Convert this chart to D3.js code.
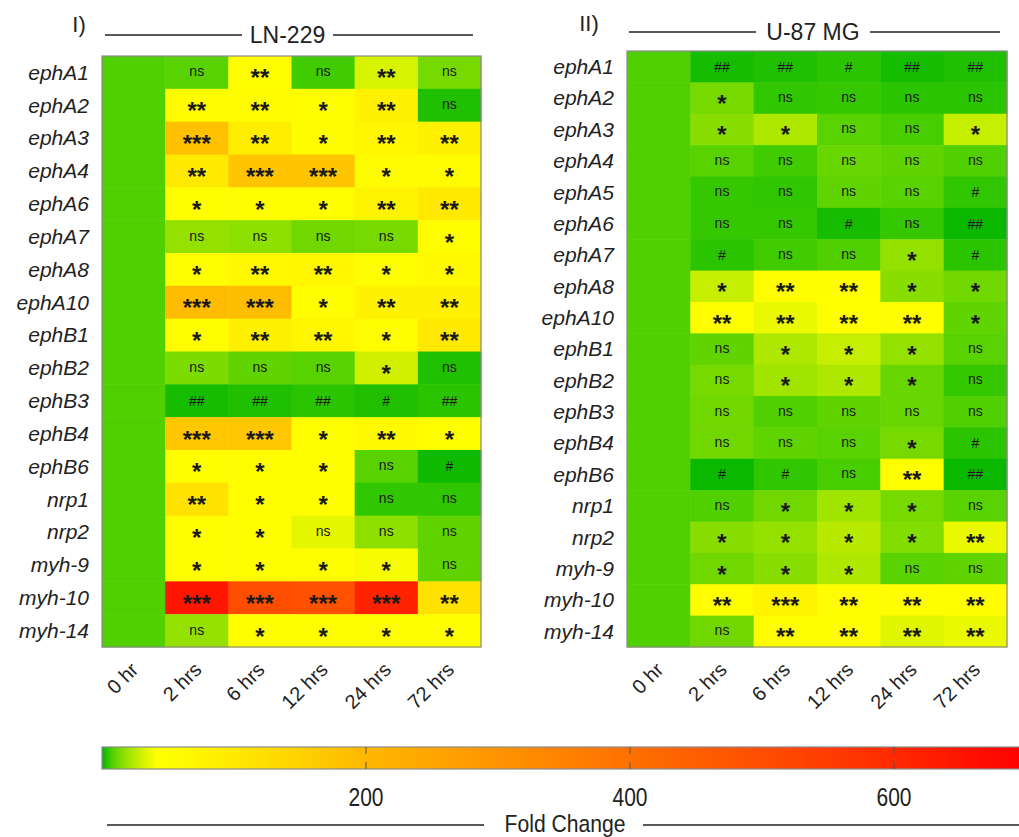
<!DOCTYPE html>
<html>
<head>
<meta charset="utf-8">
<script src="https://cdn.jsdelivr.net/npm/d3@7"></script>
<style>
  html, body { margin: 0; padding: 0; background: #fff; }
  svg { display: block; }
</style>
</head>
<body>
<svg id="chart" width="1019" height="837"></svg>
<script>
// Time points after treatment
const timepoints = ['0 hr', '2 hrs', '6 hrs', '12 hrs', '24 hrs', '72 hrs'];

// LN-229 panel
const genesLN = ['ephA1', 'ephA2', 'ephA3', 'ephA4', 'ephA6', 'ephA7', 'ephA8', 'ephA10',
  'ephB1', 'ephB2', 'ephB3', 'ephB4', 'ephB6', 'nrp1', 'nrp2', 'myh-9', 'myh-10', 'myh-14'];
const foldLN = [
  [8, 9, 50, 6, 32, 13],
  [8, 55, 55, 50, 80, 3],
  [8, 185, 90, 55, 70, 80],
  [8, 100, 175, 175, 55, 55],
  [8, 50, 50, 50, 75, 100],
  [8, 18, 17, 12, 13, 50],
  [8, 50, 65, 70, 50, 60],
  [8, 195, 190, 50, 80, 80],
  [8, 50, 85, 70, 50, 100],
  [8, 14, 10, 9, 30, 3],
  [8, 2, 3, 4, 3, 4],
  [8, 170, 170, 50, 60, 50],
  [8, 50, 50, 50, 9, 1.5],
  [8, 115, 50, 50, 4.5, 4.5],
  [8, 50, 50, 35, 17, 10],
  [8, 50, 50, 50, 40, 10],
  [8, 650, 500, 490, 620, 115],
  [8, 18, 50, 50, 50, 50]
];
const sigLN = [
  ['', 'ns', '**', 'ns', '**', 'ns'],
  ['', '**', '**', '*', '**', 'ns'],
  ['', '***', '**', '*', '**', '**'],
  ['', '**', '***', '***', '*', '*'],
  ['', '*', '*', '*', '**', '**'],
  ['', 'ns', 'ns', 'ns', 'ns', '*'],
  ['', '*', '**', '**', '*', '*'],
  ['', '***', '***', '*', '**', '**'],
  ['', '*', '**', '**', '*', '**'],
  ['', 'ns', 'ns', 'ns', '*', 'ns'],
  ['', '##', '##', '##', '#', '##'],
  ['', '***', '***', '*', '**', '*'],
  ['', '*', '*', '*', 'ns', '#'],
  ['', '**', '*', '*', 'ns', 'ns'],
  ['', '*', '*', 'ns', 'ns', 'ns'],
  ['', '*', '*', '*', '*', 'ns'],
  ['', '***', '***', '***', '***', '**'],
  ['', 'ns', '*', '*', '*', '*']
];

// U-87 MG panel
const genesU87 = ['ephA1', 'ephA2', 'ephA3', 'ephA4', 'ephA5', 'ephA6', 'ephA7', 'ephA8', 'ephA10',
  'ephB1', 'ephB2', 'ephB3', 'ephB4', 'ephB6', 'nrp1', 'nrp2', 'myh-9', 'myh-10', 'myh-14'];
const foldU87 = [
  [8, 2, 3, 4, 2, 3],
  [8, 13, 4.5, 5, 4, 4],
  [8, 16, 23, 9, 7, 28],
  [8, 9, 6, 11, 10, 8],
  [8, 5, 4.5, 10, 9, 4.5],
  [8, 5, 5, 2, 5, 1],
  [8, 4, 6, 8, 18, 4],
  [8, 28, 48, 48, 16, 12],
  [8, 48, 37, 45, 48, 10],
  [8, 10, 23, 28, 18, 9],
  [8, 13, 20, 23, 11, 5],
  [8, 12, 8, 10, 11, 8],
  [8, 12, 10, 9, 13, 4],
  [8, 1, 4.5, 7, 48, 1],
  [8, 8, 12, 20, 13, 9],
  [8, 16, 18, 25, 15, 37],
  [8, 12, 16, 23, 9, 10],
  [8, 50, 75, 50, 50, 50],
  [8, 12, 48, 48, 34, 37]
];
const sigU87 = [
  ['', '##', '##', '#', '##', '##'],
  ['', '*', 'ns', 'ns', 'ns', 'ns'],
  ['', '*', '*', 'ns', 'ns', '*'],
  ['', 'ns', 'ns', 'ns', 'ns', 'ns'],
  ['', 'ns', 'ns', 'ns', 'ns', '#'],
  ['', 'ns', 'ns', '#', 'ns', '##'],
  ['', '#', 'ns', 'ns', '*', '#'],
  ['', '*', '**', '**', '*', '*'],
  ['', '**', '**', '**', '**', '*'],
  ['', 'ns', '*', '*', '*', 'ns'],
  ['', 'ns', '*', '*', '*', 'ns'],
  ['', 'ns', 'ns', 'ns', 'ns', 'ns'],
  ['', 'ns', 'ns', 'ns', '*', '#'],
  ['', '#', '#', 'ns', '**', '##'],
  ['', 'ns', '*', '*', '*', 'ns'],
  ['', '*', '*', '*', '*', '**'],
  ['', '*', '*', '*', 'ns', 'ns'],
  ['', '**', '***', '**', '**', '**'],
  ['', 'ns', '**', '**', '**', '**']
];

// Fold-change colour ramp (green -> yellow -> orange -> red)
const colorDomain = [0, 6, 12, 20, 30, 42, 60, 120, 200, 400, 600, 700];
const colorRange = ['#00b400', '#40cc00', '#70d800', '#a0e400', '#d0f000', '#ffff00',
  '#fffa00', '#ffe000', '#ffb800', '#ff7000', '#ff2a00', '#ff0000'];
const legendTicks = [200, 400, 600];

const color = d3.scaleLinear().domain(colorDomain).range(colorRange).clamp(true);

const svg = d3.select('#chart');
const FONT = "'Liberation Sans', Arial, Helvetica, sans-serif";

function drawPanel(opt) {
  const { x0, x1, y0, y1, genes, fold, sig, title, roman, titleY, lineL, lineR } = opt;
  const g = svg.append('g');

  const x = d3.scaleBand().domain(timepoints).range([x0, x1]);
  const y = d3.scaleBand().domain(genes).range([y0, y1]);

  const cells = [];
  genes.forEach((gene, i) => {
    timepoints.forEach((t, j) => {
      cells.push({ gene, t, v: fold[i][j], s: sig[i][j] });
    });
  });

  g.selectAll('rect.cell')
    .data(cells)
    .join('rect')
    .attr('class', 'cell')
    .attr('x', d => x(d.t))
    .attr('y', d => y(d.gene))
    .attr('width', x.bandwidth() + 0.5)
    .attr('height', y.bandwidth() + 0.5)
    .attr('fill', d => color(d.v));

  g.append('rect')
    .attr('x', x0).attr('y', y0)
    .attr('width', x1 - x0).attr('height', y1 - y0)
    .attr('fill', 'none')
    .attr('stroke', '#8a8a8a')
    .attr('stroke-width', 1.2);

  // significance marks
  g.selectAll('text.sig')
    .data(cells.filter(d => d.s))
    .join('text')
    .attr('class', 'sig')
    .attr('x', d => x(d.t) + x.bandwidth() / 2)
    .attr('y', d => {
      const cy = y(d.gene) + y.bandwidth() / 2;
      if (d.s.startsWith('*')) return cy + 14;
      if (d.s.startsWith('#')) return cy + 5;
      return cy + 4;
    })
    .attr('text-anchor', 'middle')
    .attr('font-family', FONT)
    .attr('font-weight', d => d.s.startsWith('*') ? 'bold' : 'normal')
    .attr('font-size', d => d.s.startsWith('*') ? 24 : 14)
    .attr('fill', '#1a1a1a')
    .text(d => d.s);

  // gene labels
  g.selectAll('text.gene')
    .data(genes)
    .join('text')
    .attr('class', 'gene')
    .attr('x', x0 - 13)
    .attr('y', d => y(d) + y.bandwidth() / 2)
    .attr('dy', '0.35em')
    .attr('text-anchor', 'end')
    .attr('font-family', FONT)
    .attr('font-style', 'italic')
    .attr('font-size', 21)
    .attr('fill', '#222')
    .text(d => d);

  // time labels
  g.selectAll('text.time')
    .data(timepoints)
    .join('text')
    .attr('class', 'time')
    .attr('text-anchor', 'end')
    .attr('transform', d => `translate(${x(d) + x.bandwidth() / 2 + 6},${y1 + 24}) rotate(-45)`)
    .attr('font-family', FONT)
    .attr('font-size', 20)
    .attr('fill', '#222')
    .text(d => d);

  // panel title with side rules
  const cx = (lineL[1] + lineR[0]) / 2;
  g.append('line').attr('x1', lineL[0]).attr('x2', lineL[1])
    .attr('y1', titleY).attr('y2', titleY).attr('stroke', '#222').attr('stroke-width', 1.3);
  g.append('line').attr('x1', lineR[0]).attr('x2', lineR[1])
    .attr('y1', titleY).attr('y2', titleY).attr('stroke', '#222').attr('stroke-width', 1.3);
  g.append('text')
    .attr('x', cx).attr('y', titleY).attr('dy', '0.36em')
    .attr('text-anchor', 'middle')
    .attr('font-family', FONT).attr('font-size', 23).attr('fill', '#222')
    .text(title);
  g.append('text')
    .attr('x', roman.x).attr('y', roman.y).attr('dy', '0.36em')
    .attr('text-anchor', 'middle')
    .attr('font-family', FONT).attr('font-size', 22).attr('fill', '#222')
    .text(roman.t);
}

drawPanel({
  x0: 102, x1: 481, y0: 56, y1: 647,
  genes: genesLN, fold: foldLN, sig: sigLN,
  title: 'LN-229', roman: { t: 'I)', x: 79, y: 24 },
  titleY: 35, lineL: [105, 242], lineR: [333, 473]
});

drawPanel({
  x0: 627, x1: 1007, y0: 51, y1: 647,
  genes: genesU87, fold: foldU87, sig: sigU87,
  title: 'U-87 MG', roman: { t: 'II)', x: 589, y: 23 },
  titleY: 32, lineL: [629, 756], lineR: [870, 1000]
});

// Colour legend
const lx = d3.scaleLinear().domain([0, 700]).range([102, 102 + 700 * 1.32]);
const barY = 747, barH = 22;

const grad = svg.append('defs').append('linearGradient')
  .attr('id', 'foldGrad')
  .attr('x1', '0%').attr('x2', '100%').attr('y1', '0%').attr('y2', '0%');
grad.selectAll('stop')
  .data(colorDomain)
  .join('stop')
  .attr('offset', d => (d / 700 * 100) + '%')
  .attr('stop-color', d => color(d));

svg.append('rect')
  .attr('x', lx(0)).attr('y', barY)
  .attr('width', lx(700) - lx(0)).attr('height', barH)
  .attr('fill', 'url(#foldGrad)')
  .attr('stroke', '#8a8a8a').attr('stroke-width', 1.2);

const tg = svg.append('g');
tg.selectAll('line.tt').data(legendTicks).join('line')
  .attr('x1', d => lx(d)).attr('x2', d => lx(d))
  .attr('y1', barY).attr('y2', barY + 7)
  .attr('stroke', '#555').attr('stroke-width', 1);
tg.selectAll('line.tb').data(legendTicks).join('line')
  .attr('x1', d => lx(d)).attr('x2', d => lx(d))
  .attr('y1', barY + barH - 7).attr('y2', barY + barH)
  .attr('stroke', '#555').attr('stroke-width', 1);
// condensed tick labels
tg.selectAll('text').data(legendTicks).join('text')
  .attr('transform', d => `translate(${lx(d)},797) scale(0.84,1)`)
  .attr('dy', '0.36em')
  .attr('text-anchor', 'middle')
  .attr('font-family', FONT).attr('font-size', 25).attr('fill', '#222')
  .text(d => d);

svg.append('line').attr('x1', 107).attr('x2', 484).attr('y1', 825).attr('y2', 825)
  .attr('stroke', '#222').attr('stroke-width', 1.3);
svg.append('line').attr('x1', 643).attr('x2', 1019).attr('y1', 825).attr('y2', 825)
  .attr('stroke', '#222').attr('stroke-width', 1.3);
svg.append('text')
  .attr('transform', 'translate(565,824) scale(0.88,1)')
  .attr('dy', '0.34em')
  .attr('text-anchor', 'middle')
  .attr('font-family', FONT).attr('font-size', 24).attr('fill', '#222')
  .text('Fold Change');
</script>
</body>
</html>
